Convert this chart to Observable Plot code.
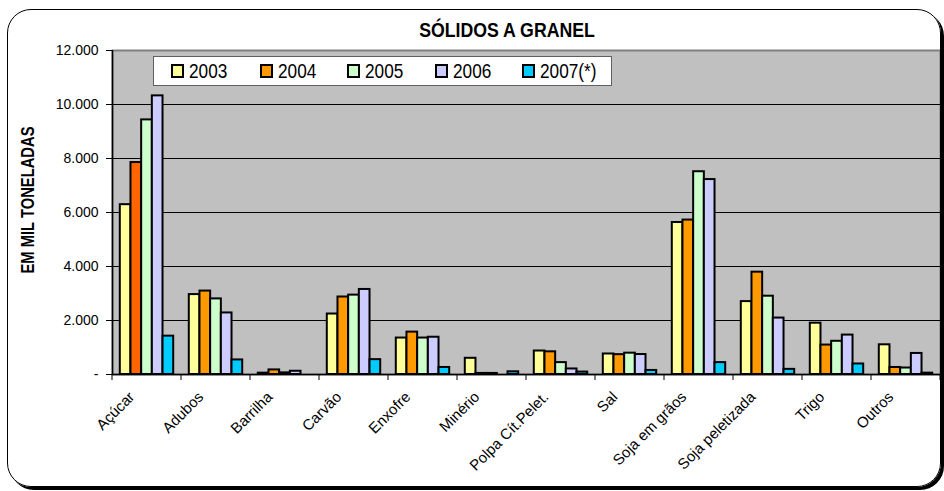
<!DOCTYPE html>
<html>
<head>
<meta charset="utf-8">
<script src="https://cdn.jsdelivr.net/npm/d3@7"></script>
<script src="https://cdn.jsdelivr.net/npm/@observablehq/plot@0.6"></script>
<style>
  html, body { margin: 0; padding: 0; background: #fff; }
  #wrap { position: relative; width: 944px; height: 491px; overflow: hidden; font-family: "Liberation Sans", Arial, sans-serif; }
  #frame { position: absolute; left: 7px; top: 9px; width: 932px; height: 476px; border: 1.5px solid #000; border-radius: 24px; box-shadow: 3px 3px 0 #000; pointer-events: none; }
  #title { position: absolute; left: 507px; top: 19px; transform: translateX(-50%) scaleX(0.885); white-space: nowrap; font-weight: bold; font-size: 20px; color: #000; }
  #ylabel { position: absolute; left: 28px; top: 200px; transform: translate(-50%, -50%) rotate(-90deg) scaleX(0.82); white-space: nowrap; font-weight: bold; font-size: 18px; }
  #legend { position: absolute; left: 153px; top: 56px; width: 457px; height: 28px; background: #fff; border: 1px solid #606060; }
  .item { position: absolute; top: 0; height: 28px; display: flex; align-items: center; font-size: 20px; }
  .sw { width: 9px; height: 10px; border: 2px solid #000; margin-right: 5px; box-sizing: content-box; }
  .lab { display: inline-block; transform: scaleX(0.86); transform-origin: left center; }
  #chart { position: absolute; left: 0; top: 0; }
</style>
</head>
<body>
<div id="wrap">
  <div id="chart"></div>
  <div id="title">SÓLIDOS A GRANEL</div>
  <div id="ylabel">EM MIL TONELADAS</div>
  <div id="legend"></div>
  <div id="frame"></div>
</div>
<script>
const categories = ["Açúcar", "Adubos", "Barrilha", "Carvão", "Enxofre", "Minério", "Polpa Cít.Pelet.", "Sal", "Soja em grãos", "Soja peletizada", "Trigo", "Outros"];
const years = ["2003", "2004", "2005", "2006", "2007(*)"];
const v2003 = [6290, 2960, 50, 2240, 1350, 600, 870, 760, 5630, 2700, 1900, 1100];
const v2004 = [7850, 3090, 170, 2870, 1570, 40, 840, 735, 5720, 3790, 1090, 260];
const v2005 = [9430, 2800, 60, 2940, 1350, 40, 440, 790, 7510, 2900, 1230, 240];
const v2006 = [10320, 2280, 120, 3150, 1380, 0, 205, 740, 7220, 2090, 1460, 780];
const v2007 = [1420, 540, 0, 550, 260, 100, 90, 150, 440, 190, 390, 50];
const yearColors = ["#FFFF99", "#FF9900", "#CCFFCC", "#CCCCFF", "#00CCFF"];
const yTicks = [0, 2000, 4000, 6000, 8000, 10000, 12000];
// individually coloured point in the source (Açúcar 2004)
const specialPoint = {cat: "Açúcar", year: "2004", color: "#FF6600"};

const series = [v2003, v2004, v2005, v2006, v2007];

const W = 944, H = 491, mL = 112, mR = 4, mT = 50, mB = 117;
const step = (W - mL - mR) / categories.length;
const groupPad = 7.8;
const barW = (step - 2 * groupPad) / years.length;

const fmt = d => d === 0 ? "-" : d3.format(",")(d).replace(/,/g, ".");

const boundaryTicks = (index, scales) => {
  const x = scales.x, y0 = scales.y(0);
  const xs = categories.map(c => x(c));
  xs.push(x(categories[categories.length - 1]) + x.bandwidth());
  const g = d3.create("svg:g").attr("stroke", "#000").attr("stroke-width", 1);
  for (const xv of xs) g.append("line").attr("x1", xv).attr("x2", xv).attr("y1", y0).attr("y2", y0 + 6);
  return g.node();
};

const barMarks = years.map((year, j) => {
  const rows = categories.map((cat, i) => ({cat, year, value: series[j][i]}));
  return Plot.barY(rows, {
    x: "cat", y: "value",
    fill: d => (d.cat === specialPoint.cat && d.year === specialPoint.year) ? specialPoint.color : yearColors[j],
    stroke: "#000", strokeWidth: 2,
    insetLeft: groupPad + j * barW,
    insetRight: groupPad + (years.length - 1 - j) * barW
  });
});

const chart = Plot.plot({
  width: W, height: H,
  marginLeft: mL, marginRight: mR, marginTop: mT, marginBottom: mB,
  style: {background: "transparent", fontFamily: "'Liberation Sans', Arial, sans-serif", fontSize: "14px", color: "#000"},
  x: {domain: categories, paddingInner: 0, paddingOuter: 0, round: false, label: null},
  y: {domain: [0, 12000], label: null},
  marks: [
    Plot.frame({fill: "#C0C0C0", stroke: "#808080", strokeWidth: 2}),
    Plot.gridY(yTicks.filter(d => d > 0 && d < 12000), {stroke: "#000", strokeOpacity: 1, strokeWidth: 1}),
    ...barMarks,
    Plot.ruleY([0], {stroke: "#000", strokeWidth: 1.5}),
    Plot.ruleX([categories[0]], {stroke: "#000", strokeWidth: 1.5, dx: -step / 2}),
    Plot.axisY({ticks: yTicks, tickFormat: fmt, tickSize: 6, tickPadding: 8, fontSize: 14, label: null}),
    boundaryTicks,
    Plot.axisX({tickRotate: -45, tickSize: 0, tickPadding: 20, dx: -15, fontSize: 15, label: null})
  ]
});
document.getElementById("chart").appendChild(chart);

const lg = document.getElementById("legend");
const legendOffsets = [17, 105.5, 193, 281, 368];
years.forEach((y, i) => {
  const it = document.createElement("div");
  it.className = "item";
  it.style.left = legendOffsets[i] + "px";
  const sw = document.createElement("div");
  sw.className = "sw";
  sw.style.background = yearColors[i];
  it.appendChild(sw);
  const t = document.createElement("span");
  t.className = "lab";
  t.textContent = y;
  it.appendChild(t);
  lg.appendChild(it);
});
</script>
</body>
</html>
